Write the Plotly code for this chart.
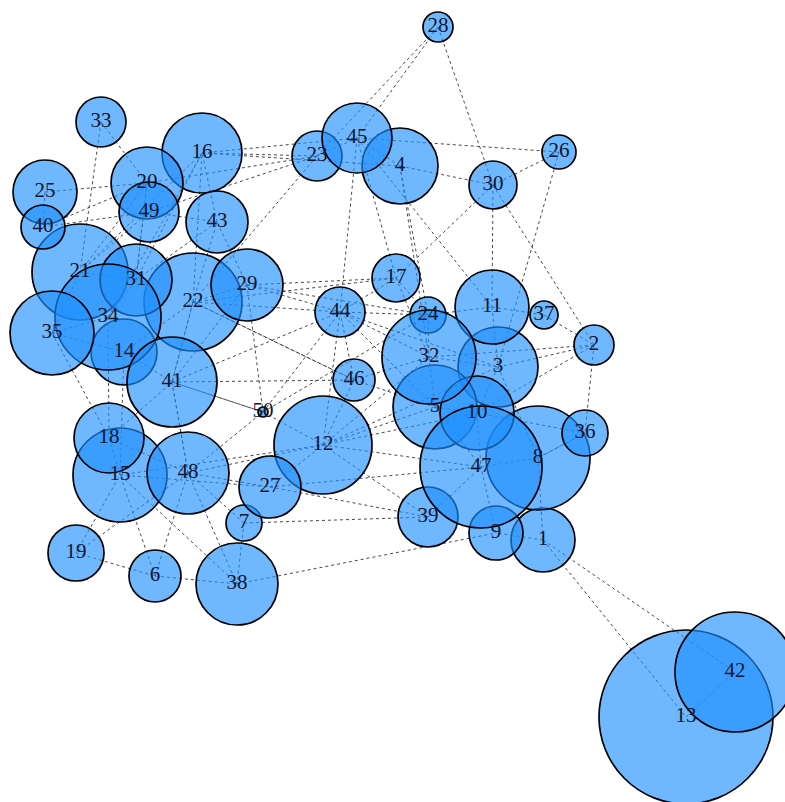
import plotly.graph_objects as go

# Node ids, layout positions (layout units) and sizes (radius)
node_ids = [1, 2, 3, 4, 5, 6, 7, 8, 9, 10,
            11, 12, 13, 14, 15, 16, 17, 18, 19, 20,
            21, 22, 23, 24, 25, 26, 27, 28, 29, 30,
            31, 32, 33, 34, 35, 36, 37, 38, 39, 40,
            41, 42, 43, 44, 45, 46, 47, 48, 49, 50]
node_x = [543, 594, 498, 400, 435, 155, 244, 538, 496, 477,
          492, 323, 686, 124, 120, 202, 396, 109, 76, 147,
          80, 193, 317, 428, 45, 559, 270, 438, 247, 493,
          136, 429, 101, 108, 52, 585, 544, 237, 428, 43,
          172, 735, 217, 340, 357, 354, 481, 188, 149, 263]
node_y = [540, 345, 367, 166, 407, 576, 523, 458, 533, 413,
          307, 445, 717, 352, 475, 153, 278, 438, 553, 183,
          272, 302, 156, 315, 192, 152, 487, 27, 285, 185,
          280, 357, 122, 317, 333, 433, 315, 584, 517, 227,
          382, 672, 222, 312, 138, 380, 467, 473, 212, 412]
node_r = [32, 20, 40, 38, 42, 26, 18, 52, 27, 37,
          37, 49, 87, 33, 47, 40, 24, 35, 28, 36,
          48, 49, 25, 18, 32, 17, 31, 15, 36, 24,
          36, 47, 25, 53, 42, 23, 14, 41, 30, 22,
          45, 60, 31, 25, 35, 21, 61, 41, 30, 5]

edges_from = [28, 28, 28, 45, 4, 30, 26, 30, 30, 30, 45, 45, 4, 4, 45, 23, 45, 23,
              16, 16, 20, 49, 16,
              37, 3, 32, 2, 36, 10,
              29, 29, 29, 44, 44, 44, 44, 44, 29, 50, 50,
              46, 12, 12, 12, 12,
              27, 7, 38, 12, 12, 48, 48, 41, 48, 15, 6, 19, 6, 38, 38, 7, 19, 6,
              33, 33, 25, 40, 40, 21, 21, 31, 21, 31, 22, 34, 43, 31, 22, 49, 29,
              22, 21, 34, 14, 35, 35, 35, 35, 34, 14, 18, 18, 41, 41, 22, 22, 22,
              11, 11, 24, 24, 32, 32, 5, 10, 47, 8, 8, 9, 39, 5, 3, 3, 10, 1,
              1, 1, 13, 17, 17, 46, 46, 46, 12, 12, 41, 41, 41, 22, 14, 48, 15,
              50, 50, 27, 27, 7, 48, 18, 25, 20]
edges_to = [23, 45, 30, 26, 30, 26, 3, 11, 17, 2, 17, 44, 24, 32, 11, 22, 4, 45,
            23, 45, 23, 23, 4,
            2, 2, 2, 36, 8, 36,
            17, 44, 24, 24, 32, 17, 5, 3, 50, 44, 24,
            22, 32, 5, 46, 44,
            12, 39, 9, 47, 39, 27, 12, 50, 50, 27, 38, 6, 48, 48, 15, 48, 15, 15,
            21, 20, 20, 20, 49, 49, 20, 20, 16, 16, 16, 16, 16, 43, 43, 43, 43,
            29, 31, 31, 41, 34, 21, 14, 18, 18, 15, 15, 48, 48, 22, 44, 17, 46,
            3, 37, 11, 32, 3, 5, 10, 47, 8, 36, 1, 47, 47, 47, 10, 8, 2, 9,
            13, 42, 42, 24, 32, 5, 32, 44, 10, 3, 29, 44, 46, 41, 22, 41, 12,
            12, 41, 47, 39, 38, 19, 41, 40, 31]

index = {n: i for i, n in enumerate(node_ids)}

ex, ey = [], []
for a, b in zip(edges_from, edges_to):
    ia, ib = index[a], index[b]
    ex += [node_x[ia], node_x[ib], None]
    ey += [node_y[ia], node_y[ib], None]

fig = go.Figure()
fig.add_trace(go.Scatter(
    x=ex, y=ey, mode="lines", hoverinfo="skip",
    line=dict(color="#333333", width=0.9, dash="3px,3px"),
    showlegend=False))

fig.add_trace(go.Scatter(
    x=node_x, y=node_y, mode="markers",
    marker=dict(size=[2 * r for r in node_r], sizemode="diameter",
                color="rgba(30,144,255,0.64)", opacity=1,
                line=dict(color="black", width=1.7)),
    text=[str(n) for n in node_ids], hoverinfo="text",
    showlegend=False))

fig.add_trace(go.Scatter(
    x=node_x, y=node_y, mode="text",
    text=[str(n) for n in node_ids],
    textfont=dict(family="Liberation Serif", size=21, color="#111530"),
    textposition="middle center", hoverinfo="skip",
    showlegend=False))

fig.update_layout(
    width=785, height=802,
    margin=dict(l=0, r=0, t=0, b=0),
    paper_bgcolor="white", plot_bgcolor="white",
    xaxis=dict(range=[0, 785], visible=False, fixedrange=True),
    yaxis=dict(range=[802, 0], visible=False, fixedrange=True),
)

fig.write_html(
    "out.html",
    config={"displayModeBar": False},
    post_script="document.body.style.margin='0px';document.body.style.overflow='hidden';",
)
